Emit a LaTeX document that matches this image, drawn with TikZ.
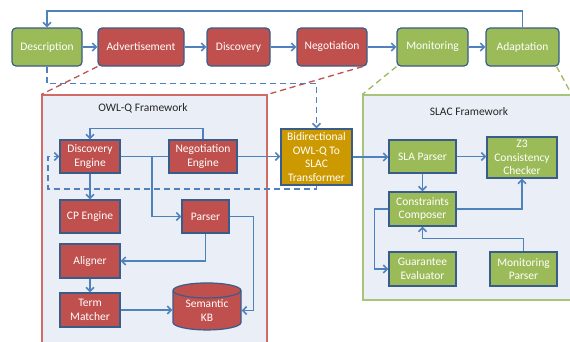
\documentclass[tikz,border=0pt]{standalone}
\usepackage{fontspec}
\setmainfont{Carlito}
\usetikzlibrary{arrows.meta,shapes.geometric}

\definecolor{owlred}{HTML}{C0504D}
\definecolor{slacgreen}{HTML}{9BBB59}
\definecolor{boxline}{HTML}{385D8A}
\definecolor{bridge}{HTML}{CC9900}
\definecolor{flowblue}{HTML}{4F81BD}
\definecolor{framefill}{HTML}{EAEFF7}
\definecolor{framered}{HTML}{D06B68}
\definecolor{framegreen}{HTML}{A8C47A}

\tikzset{
    box/.style={draw=boxline, line width=1.2pt, text=white, align=center,
        inner sep=0pt, font=\fontsize{11.5}{13.5}\selectfont},
    phase/.style={box, rounded corners=4pt, minimum height=38pt},
    owlbox/.style={box, fill=owlred, minimum height=33pt},
    slacbox/.style={box, fill=slacgreen, minimum height=33pt},
    frame/.style={fill=framefill, line width=1.2pt, inner sep=0pt},
    framelabel/.style={text=black!85, font=\fontsize{11.5}{13.5}\selectfont},
    flow/.style={draw=flowblue, line width=1.6pt,
        -{Straight Barb[length=4pt,width=8pt]}},
    link/.style={draw=flowblue, line width=1.6pt},
    dashflow/.style={flow, dash pattern=on 6pt off 4pt},
    zoomred/.style={draw=owlred, line width=1.3pt, dash pattern=on 6pt off 4pt},
    zoomgreen/.style={draw=slacgreen, line width=1.3pt, dash pattern=on 6pt off 4pt}
}

\begin{document}
\begin{tikzpicture}[x=1pt, y=-1pt]
    \clip (0, 0) rectangle (570, 341);

    % framework panels
    \node[frame, draw=framered, minimum width=225pt, minimum height=252pt] (owl) at (154.5, 221) {};
    \node[frame, draw=framegreen, minimum width=208pt, minimum height=205pt] (slac) at (467, 197.5) {};
    \node[framelabel] (owllabel) at (143, 108) {OWL-Q Framework};
    \node[framelabel] (slaclabel) at (469, 112) {SLAC Framework};

    % life cycle
    \node[phase, fill=slacgreen, minimum width=70pt] (desc)  at (47, 47)    {Description};
    \node[phase, fill=owlred,    minimum width=86pt] (adv)   at (141, 47)   {Advertisement};
    \node[phase, fill=owlred,    minimum width=63pt] (disc)  at (238.5, 47) {Discovery};
    \node[phase, fill=owlred,    minimum width=70pt] (nego)  at (332, 47)   {Negotiation};
    \node[phase, fill=slacgreen, minimum width=71pt] (mon)   at (432.5, 47) {Monitoring};
    \node[phase, fill=slacgreen, minimum width=73pt] (adapt) at (522.5, 47) {Adaptation};

    \draw[flow] (desc) -- (adv);
    \draw[flow] (adv) -- (disc);
    \draw[flow] (disc) -- (nego);
    \draw[flow] (nego) -- (mon);
    \draw[flow] (mon) -- (adapt);
    \coordinate (top) at (0, 11);
    \draw[flow] (adapt.north) -- (adapt.north |- top) -| (desc.north);

    \draw[zoomred] (adv.south west) -- (owl.north west);
    \draw[zoomred] ([xshift=-5pt]nego.south east) -- (owl.north east);
    \draw[zoomgreen] (mon.south west) -- (slac.north west);
    \draw[zoomgreen] ([xshift=-3pt]adapt.south east) -- (slac.north east);

    % OWL-Q side
    \node[owlbox, minimum width=60pt] (deng)   at (90, 156.5)    {Discovery\\Engine};
    \node[owlbox, minimum width=68pt] (neng)   at (203, 156.5)   {Negotiation\\Engine};
    \node[owlbox, minimum width=60pt] (cp)     at (90, 216.5)    {CP Engine};
    \node[owlbox, minimum width=47pt] (parser) at (205.5, 216.5) {Parser};
    \node[owlbox, minimum width=60pt, minimum height=34pt] (aligner) at (90, 261) {Aligner};
    \node[owlbox, minimum width=60pt, minimum height=34pt] (term)    at (90, 310) {Term\\Matcher};
    \node[box, fill=owlred, cylinder, shape border rotate=90, aspect=0.35,
        minimum width=68pt, minimum height=47pt] (kb) at (207, 310.5) {Semantic\\KB};

    \node[box, fill=bridge, minimum width=71pt, minimum height=56pt] (bidi) at (316.5, 157)
        {Bidirectional\\OWL-Q To\\SLAC\\Transformer};

    % SLAC side
    \node[slacbox, minimum width=67pt] (slap) at (422.5, 156.5) {SLA Parser};
    \node[slacbox, minimum width=70pt, minimum height=41pt] (z3) at (522, 157.5) {Z3\\Consistency\\Checker};
    \node[slacbox, minimum width=67pt, minimum height=34pt] (cc) at (422.5, 209) {Constraints\\Composer};
    \node[slacbox, minimum width=67pt, minimum height=34pt] (ge) at (422.5, 269) {Guarantee\\Evaluator};
    \node[slacbox, minimum width=67pt, minimum height=34pt] (mp) at (523.5, 269) {Monitoring\\Parser};

    % OWL-Q connectors
    \draw[flow] (neng.north) -- ++(0, -11) -| (deng.north);
    \draw[link] (deng) -- (neng);
    \coordinate (split) at (152, 156.5);
    \draw[flow] (split) |- (parser.west);
    \draw[flow] (deng) -- (cp);
    \draw[flow] (parser.south) |- (aligner.east);
    \draw[flow] (parser.east) -- ++(24, 0) |- (kb.east);
    \draw[flow] (aligner) -- (term);
    \draw[flow] (term.east) -- (term.east -| kb.west);
    \draw[flow] (neng.east) -- (neng.east -| bidi.west);

    % SLAC connectors
    \draw[flow] (bidi.east) -- (bidi.east -| slap.west);
    \draw[flow] (slap.east) -- (slap.east -| z3.west);
    \draw[flow] (slap) -- (cc);
    \draw[flow] (cc.east) -| (z3.south);
    \draw[flow] (cc.west) -- ++(-14, 0) |- (ge.west);
    \draw[flow] (mp.north) -- ++(0, -13) -| (cc.south);

    % dashed loop through the transformer
    \draw[dashflow] (desc.south) -- ++(0, 17) -| (bidi.north);
    \coordinate (back) at (48, 189);
    \draw[dashflow] (bidi.south) |- (back) |- (deng.west);
\end{tikzpicture}
\end{document}
